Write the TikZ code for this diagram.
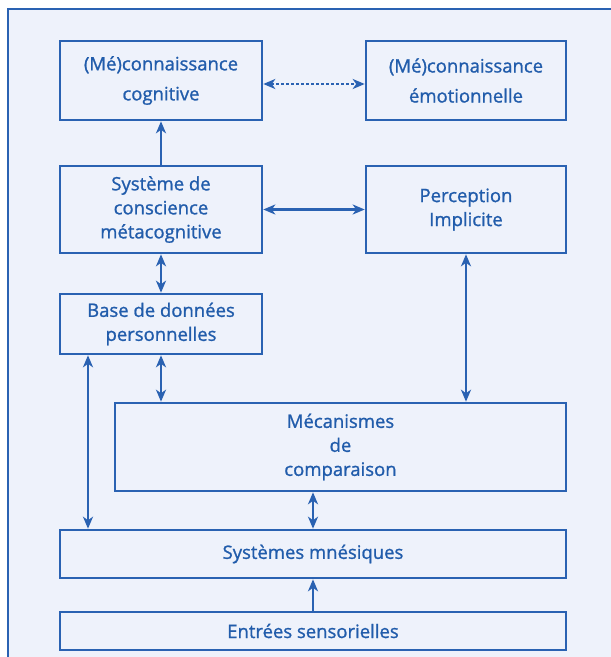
\documentclass[tikz,border=0pt]{standalone}
\usepackage{fontspec}
\setmainfont{Open Sans}[FakeBold=1.1]
\usetikzlibrary{arrows.meta}
\definecolor{bleu}{HTML}{2A62B2}
\definecolor{texte}{HTML}{215CAB}
\definecolor{fond}{HTML}{EEF2FB}
\begin{document}
\begin{tikzpicture}[x=1pt,y=-1pt,
  boite/.style={draw=bleu,line width=2.6pt,fill=fond,inner sep=0pt,text=texte,align=center,
    font=\fontsize{18.5}{24}\selectfont},
  lien/.style={draw=bleu,line width=2.3pt,{Stealth[length=12pt,width=10pt,inset=3.5pt]}-{Stealth[length=12pt,width=10pt,inset=3.5pt]}},
  monte/.style={draw=bleu,line width=2.3pt,-{Stealth[length=12pt,width=10pt,inset=3.5pt]}}]
\useasboundingbox (0,0) rectangle (611,657);
\fill[white] (0,0) rectangle (611,657);
\filldraw[fill=fond,draw=bleu,line width=1.8pt] (8,9) rectangle (640,700);

\node[boite,minimum width=202pt,minimum height=79pt,font=\fontsize{18.5}{30}\selectfont] (A) at (161,80.5) {(Mé)connaissance\\cognitive};
\node[boite,minimum width=200pt,minimum height=79pt,font=\fontsize{18.5}{30}\selectfont] (B) at (466,80.5) {(Mé)connaissance\\émotionnelle};
\node[boite,minimum width=202pt,minimum height=87pt] (C) at (161,209.5) {Système de\\conscience\\métacognitive};
\node[boite,minimum width=200pt,minimum height=87pt] (D) at (466,209.5) {Perception\\Implicite};
\node[boite,minimum width=202pt,minimum height=60pt] (E) at (161,324) {Base de données\\personnelles};
\node[boite,minimum width=451pt,minimum height=88pt] (F) at (340.5,447) {Mécanismes\\de\\comparaison};
\node[boite,minimum width=506pt,minimum height=48pt] (G) at (313,554) {Systèmes mnésiques};
\node[boite,minimum width=506pt,minimum height=38pt] (H) at (313,631) {Entrées sensorielles};

\draw[lien,dash pattern=on 3pt off 2pt] ([yshift=-3.5pt]A.east) -- ([yshift=-3.5pt]B.west);
\draw[monte] (C.north) -- (A.south);
\draw[lien] (C.east) -- (D.west);
\draw[lien] (C.south) -- (E.north);
\draw[lien] (E.south) -- (E.south |- F.north);
\draw[lien] (E.south -| 88,0) -- (G.north -| 88,0);
\draw[lien] (D.south) -- (D.south |- F.north);
\draw[lien] (F.south -| G.north) -- (G.north);
\draw[monte] (H.north) -- (G.south);
\end{tikzpicture}
\end{document}
